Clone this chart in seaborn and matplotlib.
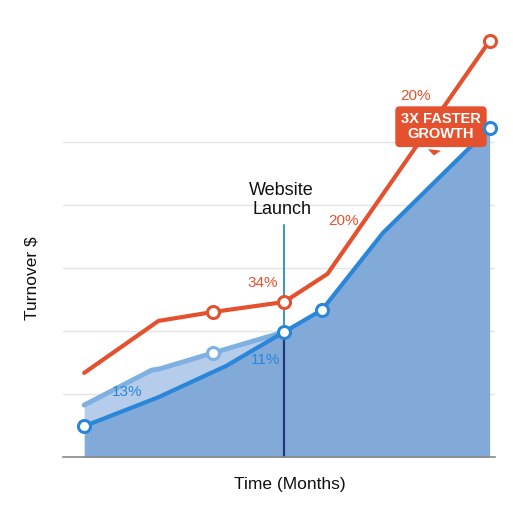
import numpy as np
import pandas as pd
import seaborn as sns
import matplotlib.pyplot as plt

# months / turnover (arbitrary units, one gridline = 20)
red_x = [0, 5.5, 9.5, 14.8, 18, 30]
red_y = [26.7, 43.2, 46.0, 49.2, 58.1, 132]
red_marked = [9.5, 14.8, 30]

blue_x = [0, 5.5, 10.5, 14.8, 17.6, 22.1, 30]
blue_y = [9.8, 19.0, 28.9, 39.7, 46.7, 71.1, 104.4]
blue_marked = [0, 14.8, 17.6, 30]

light_x = [0, 5.0, 5.6, 9.5, 14.8]
light_y = [16.5, 27.6, 28.0, 33.0, 39.7]
light_marked = [9.5]

launch_x = 14.8
labels = [("34%", 13.2, 55.2, "red"), ("20%", 19.2, 74.9, "red"), ("20%", 24.5, 114.6, "red"),
          ("13%", 3.2, 20.6, "blue"), ("11%", 13.4, 30.8, "blue")]

RED = "#e4512f"
BLUE = "#2a86d9"
FILL = "#82aad9"
LIGHT = "#b5cdea"
LIGHT_LINE = "#7eb0e2"

sns.set_theme(style="white")
plt.rcParams['font.family'] = ['Liberation Sans', 'DejaVu Sans']

fig = plt.figure(figsize=(5.13, 5.09), dpi=100)
ax = fig.add_axes([0.123, 0.102, 0.842, 0.859])

red = pd.DataFrame({"x": red_x, "y": red_y})
blue = pd.DataFrame({"x": blue_x, "y": blue_y})
light = pd.DataFrame({"x": light_x, "y": light_y})

# filled areas
ax.fill_between(blue.x, 0, blue.y, color=FILL, lw=0, zorder=1)
blue_at_light = np.interp(light.x, blue.x, blue.y)
ax.fill_between(light.x, blue_at_light, light.y, color=LIGHT, lw=0, zorder=1)

# launch line
launch_y = np.interp(launch_x, blue.x, blue.y)
ax.plot([launch_x, launch_x], [0, launch_y], color="#1d3a7a", lw=1.6, zorder=2)
ax.plot([launch_x, launch_x], [launch_y, 73.7], color="#3b8fd0", lw=1.4, zorder=2)

sns.lineplot(data=light, x="x", y="y", color=LIGHT_LINE, lw=3.5, ax=ax, zorder=3)
sns.lineplot(data=blue, x="x", y="y", color=BLUE, lw=3, ax=ax, zorder=4)
sns.lineplot(data=red, x="x", y="y", color=RED, lw=3, ax=ax, zorder=4)

for df, marked, col in [(red, red_marked, RED), (blue, blue_marked, BLUE), (light, light_marked, LIGHT_LINE)]:
    pts = df[df.x.isin(marked)]
    sns.scatterplot(data=pts, x="x", y="y", s=75, facecolor="white", edgecolor=col,
                    linewidth=2.2, ax=ax, zorder=8, clip_on=False)

for txt, x, y, c in labels:
    ax.text(x, y, txt, color=RED if c == "red" else BLUE, fontsize=11, ha="center", va="center", zorder=6)

ax.text(14.6, 81.6, "Website\nLaunch", fontsize=13, ha="center", va="center", color="#111111",
        linespacing=1.2)

ax.annotate("3X FASTER\nGROWTH", xy=(25.85, 94.8), xytext=(26.4, 104.8), ha="center", va="center",
            color="white", fontsize=10.5, fontweight="bold", zorder=7, linespacing=1.1,
            bbox=dict(boxstyle="round,pad=0.4,rounding_size=0.3", fc=RED, ec="none"),
            arrowprops=dict(arrowstyle="wedge,tail_width=0.9", fc=RED, ec="none",
                            relpos=(0.45, 0.5)))

ax.set_xlim(-1.56, 30.4)
ax.set_ylim(0, 138.7)
ax.set_yticks([20, 40, 60, 80, 100])
ax.set_xticks([])
ax.set_yticklabels([])
ax.tick_params(left=False, bottom=False)
ax.grid(axis="y", color="#e4e4e4", lw=1)
ax.set_axisbelow(True)
for s in ["top", "right", "left"]:
    ax.spines[s].set_visible(False)
ax.spines["bottom"].set_color("#888888")
ax.spines["bottom"].set_linewidth(1.2)

ax.set_xlabel("Time (Months)", fontsize=12.5, labelpad=14, color="#111111")
ax.set_ylabel("Turnover $", fontsize=12.5, color="#111111")
ax.xaxis.set_label_coords(0.525, -0.045)
ax.yaxis.set_label_coords(-0.055, 0.41)

fig.savefig("out.png", dpi=100)
